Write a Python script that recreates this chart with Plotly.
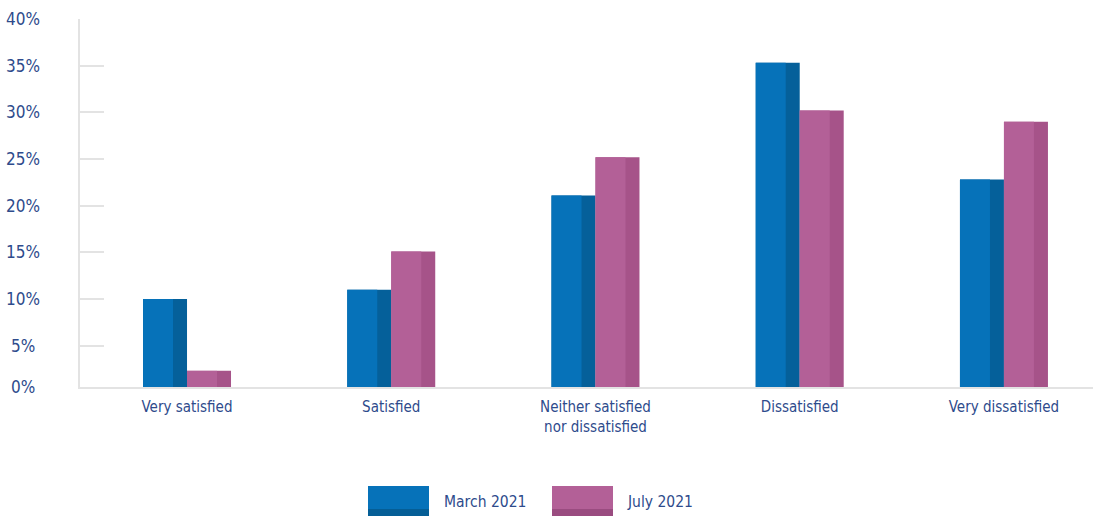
import plotly.graph_objects as go

# ---- data ----
categories = ["Very satisfied", "Satisfied", "Neither satisfied<br>nor dissatisfied",
              "Dissatisfied", "Very dissatisfied"]
march_2021 = [10.0, 11.0, 21.1, 35.3, 22.8]
july_2021 = [2.3, 15.1, 25.2, 30.2, 29.0]
series_names = ["March 2021", "July 2021"]
y_ticks = [0, 5, 10, 15, 20, 25, 30, 35, 40]
y_tick_labels = [f"{v}%" for v in y_ticks]

# ---- style ----
W, H = 1093, 516
ML, MR, MT, MB = 80, 0, 19, 129
PW, PH = W - ML - MR, H - MT - MB
FONT = "'Liberation Sans Narrow', 'Arial Narrow', 'DejaVu Sans Condensed', sans-serif"
TXT = "#2E4B8C"
GRID = "#E3E3E3"
BLUE, BLUE_D, BLUE_L = "#0672B9", "#05609A", "#055E96"
MAG, MAG_D, MAG_L = "#B36097", "#A65389", "#9A4C80"
Y_MIN = 0.57
BAR_W = 0.2154
FRONT_W = 0.1469

def px_x(px):
    return (px - ML) / PW

def px_y(py):
    return (MT + PH - py) / PH

fig = go.Figure()
for vals, off, c_side, c_front, name in [
    (march_2021, -BAR_W, BLUE_D, BLUE, series_names[0]),
    (july_2021, 0.0, MAG_D, MAG, series_names[1]),
]:
    fig.add_trace(go.Bar(x=categories, y=vals, width=BAR_W, offset=off,
                         marker=dict(color=c_side, line=dict(width=0)),
                         name=name, showlegend=False, hoverinfo="skip"))
    fig.add_trace(go.Bar(x=categories, y=vals, width=FRONT_W, offset=off,
                         marker=dict(color=c_front, line=dict(width=0)),
                         name=name, showlegend=False))

annotations = []
for v, lab in zip(y_ticks, y_tick_labels):
    annotations.append(dict(x=px_x(23), xref="paper", y=max(v, Y_MIN), yref="y",
                            text=lab, showarrow=False, xanchor="center", yanchor="middle",
                            font=dict(family=FONT, size=17, color=TXT)))

shapes = []
legend_items = [(368, BLUE, BLUE_L, series_names[0], 442),
                (552, MAG, MAG_L, series_names[1], 625)]
for x0, c, cd, name, tx in legend_items:
    shapes.append(dict(type="rect", xref="paper", yref="paper",
                       x0=px_x(x0), x1=px_x(x0 + 61), y0=px_y(486), y1=px_y(509),
                       fillcolor=c, line=dict(width=0)))
    shapes.append(dict(type="rect", xref="paper", yref="paper",
                       x0=px_x(x0), x1=px_x(x0 + 61), y0=px_y(509), y1=px_y(522),
                       fillcolor=cd, line=dict(width=0)))
    annotations.append(dict(x=px_x(tx), xref="paper", y=px_y(502), yref="paper",
                            text=name, showarrow=False, xanchor="left", yanchor="middle",
                            font=dict(family=FONT, size=15.5, color=TXT)))

fig.update_layout(
    width=W, height=H, autosize=False,
    margin=dict(l=ML, r=MR, t=MT, b=MB, pad=0),
    paper_bgcolor="white", plot_bgcolor="white",
    barmode="overlay", showlegend=False,
    font=dict(family=FONT, size=15, color=TXT),
    xaxis=dict(type="category", range=[-0.524, 4.436], showgrid=False,
               showline=True, linecolor=GRID, linewidth=2, ticks="",
               tickfont=dict(family=FONT, size=15, color=TXT),
               ticklabelstandoff=5, zeroline=False),
    yaxis=dict(range=[Y_MIN, 40], showgrid=False, zeroline=False,
               showline=True, linecolor=GRID, linewidth=2,
               ticks="inside", ticklen=24, tickwidth=2, tickcolor=GRID,
               tickvals=y_ticks[1:], showticklabels=False),
    annotations=annotations, shapes=shapes,
)

fig.write_html("out.html")
